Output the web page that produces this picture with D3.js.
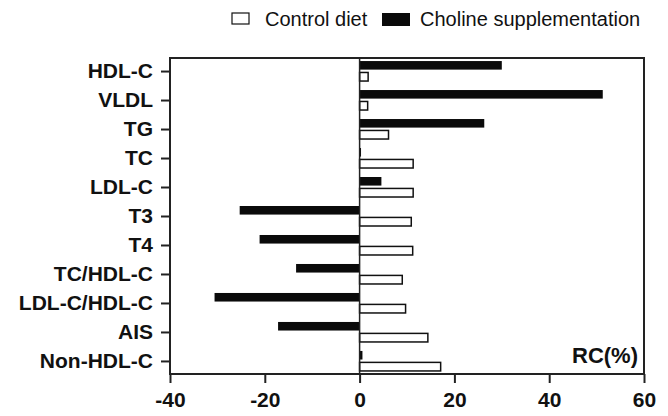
<!DOCTYPE html>
<html><head><meta charset="utf-8">
<script src="https://cdn.jsdelivr.net/npm/d3@7"></script>
<style>body{margin:0;background:#fff}svg{display:block}</style>
</head><body>
<svg id="c" width="668" height="416"></svg>
<script>
const categories = ["HDL-C","VLDL","TG","TC","LDL-C","T3","T4","TC/HDL-C","LDL-C/HDL-C","AIS","Non-HDL-C"];
const controlDiet = [1.8,1.7,6.1,11.3,11.3,10.9,11.2,9.0,9.7,14.4,17.1];
const cholineSupp = [30.0,51.3,26.3,0.3,4.6,-25.3,-21.1,-13.4,-30.6,-17.2,0.6];
const xTicks = [-40,-20,0,20,40,60];
const seriesNames = ["Control diet","Choline supplementation"];

const svg = d3.select("#c");
const font = "'Liberation Sans', Arial, sans-serif";
const L=170, R=644, T=58, B=374;
const x = d3.scaleLinear().domain([-40,60]).range([L,R]);
const y = d3.scalePoint().domain(categories).range([T,B]).padding(0.45);
const sub = d3.scaleBand().domain(["choline","control"]).range([-10,10]).paddingInner(0.25);

// bars
const g = svg.append("g");
g.selectAll("rect.ch").data(categories).join("rect")
  .attr("x",(d,i)=>x(Math.min(0,cholineSupp[i])))
  .attr("width",(d,i)=>Math.abs(x(cholineSupp[i])-x(0)))
  .attr("y",d=>y(d)+sub("choline"))
  .attr("height",sub.bandwidth())
  .attr("fill","#0a0a0a");
g.selectAll("rect.co").data(categories).join("rect")
  .attr("x",(d,i)=>x(Math.min(0,controlDiet[i])))
  .attr("width",(d,i)=>Math.abs(x(controlDiet[i])-x(0)))
  .attr("y",d=>y(d)+sub("control"))
  .attr("height",sub.bandwidth())
  .attr("fill","#fff").attr("stroke","#111").attr("stroke-width",1.5);

// zero line
svg.append("line").attr("x1",x(0)).attr("x2",x(0)).attr("y1",T).attr("y2",B)
  .attr("stroke","#222").attr("stroke-width",1.5);

// frame
svg.append("rect").attr("x",L).attr("y",T).attr("width",R-L).attr("height",B-T)
  .attr("fill","none").attr("stroke","#222").attr("stroke-width",2);

// x axis
const xa = svg.append("g").attr("transform",`translate(0,${B})`)
  .call(d3.axisBottom(x).tickValues(xTicks).tickSize(9).tickPadding(9).tickFormat(d3.format("d")));
xa.select(".domain").remove();
xa.selectAll("line").attr("stroke","#222").attr("stroke-width",2);
xa.selectAll("text").attr("font-family",font).attr("font-size",21).attr("font-weight","bold").attr("fill","#111")
  .text(d=>d<0?"-"+Math.abs(d):d);

// y axis
const ya = svg.append("g").attr("transform",`translate(${L},0)`)
  .call(d3.axisLeft(y).tickSize(9).tickPadding(8));
ya.select(".domain").remove();
ya.selectAll("line").attr("stroke","#222").attr("stroke-width",2);
ya.selectAll("text").attr("font-family",font).attr("font-size",21).attr("font-weight","bold").attr("fill","#111");

// RC(%)
svg.append("text").attr("x",R-6).attr("y",363).attr("text-anchor","end")
  .attr("font-family",font).attr("font-size",22).attr("font-weight","bold").attr("fill","#111").text("RC(%)");

// legend
const leg = svg.append("g");
leg.append("rect").attr("x",232).attr("y",13).attr("width",17).attr("height",11)
  .attr("fill","#fff").attr("stroke","#111").attr("stroke-width",1.2);
leg.append("text").attr("x",265).attr("y",26).attr("font-family",font).attr("font-size",20).attr("fill","#111").text(seriesNames[0]);
leg.append("rect").attr("x",382).attr("y",13).attr("width",28).attr("height",13).attr("fill","#0a0a0a");
leg.append("text").attr("x",420).attr("y",26).attr("font-family",font).attr("font-size",20).attr("fill","#111").text(seriesNames[1]);
</script>
</body></html>
